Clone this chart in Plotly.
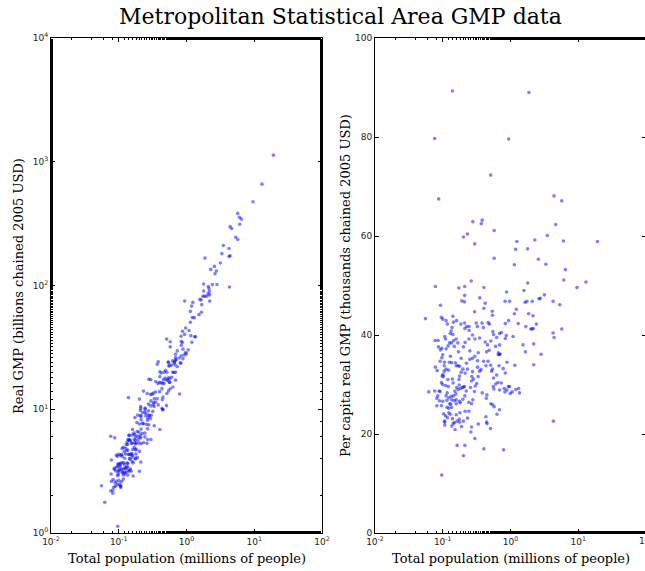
import plotly.graph_objects as go

# Metropolitan statistical areas: total population (millions of people)
population = [
    0.139, 1.87, 0.076, 0.94, 0.51, 0.087, 4.39, 5.70, 0.278, 0.383,
    0.370, 0.232, 0.202, 0.575, 0.297, 4.64, 3.50, 2.28, 1.24, 6.04,
    19.2, 1.19, 1.79, 0.575, 2.58, 1.14, 3.33, 6.46, 6.11, 1.79,
    13.0, 9.59, 0.078, 0.263, 0.173, 0.211, 0.405, 0.875, 1.58, 0.211,
    0.352, 3.16, 2.76,
    0.0925, 0.191, 0.209, 0.423, 0.404, 0.295, 0.537, 0.543, 0.832, 0.970,
    1.22, 1.64, 1.75, 2.10, 2.63, 4.25, 5.33, 1.14, 1.30, 1.85,
    2.15, 2.41, 2.08, 1.99, 1.68, 2.17, 1.09, 0.867, 0.838, 0.731,
    0.690, 0.838, 0.938, 1.53, 2.20, 2.82, 1.66, 2.20, 4.25, 4.40,
    5.71, 1.16,
    0.0556, 0.0622, 0.0955, 0.100, 0.112, 0.117, 0.141, 0.144, 0.160, 0.185,
    0.210, 0.212, 0.225, 0.245, 0.245, 0.312, 0.324, 0.380, 0.398, 0.468,
    0.490, 0.549, 0.137, 0.133, 0.0771, 0.0855, 0.0968, 0.107, 0.110, 0.129,
    0.141, 0.145, 0.135, 0.148, 0.158, 0.167, 0.171, 0.202, 0.214, 0.243,
    0.275, 0.298, 0.350, 0.423, 0.457, 0.513, 0.562, 0.624, 0.603, 0.690,
    0.661, 0.690, 0.444, 0.484, 0.334, 0.298, 0.251, 0.275, 0.326, 0.400,
    0.434, 0.465, 0.508, 0.526, 0.562, 0.624, 0.676, 0.603, 0.556, 0.569,
    0.652, 0.731, 0.809, 0.887, 0.828, 0.929, 0.993, 0.690, 0.449, 0.383,
    0.439, 0.513, 0.543, 0.575, 0.690, 0.631, 0.434, 0.444, 0.449, 0.507,
    0.334, 0.298, 0.404, 0.791, 4.30, 0.212, 0.163, 0.202, 0.0968, 0.266,
    0.260,
    0.078, 0.0826, 0.0817, 0.0883, 0.0914, 0.0979, 0.102, 0.0968, 0.100, 0.105,
    0.105, 0.112, 0.100, 0.0957, 0.103, 0.106, 0.107, 0.112, 0.116, 0.119,
    0.122, 0.126, 0.130, 0.136, 0.139, 0.142, 0.116, 0.123, 0.127, 0.133,
    0.136, 0.129, 0.139, 0.143, 0.148, 0.152, 0.158, 0.158, 0.161, 0.169,
    0.173, 0.177, 0.154, 0.158, 0.169, 0.177, 0.187, 0.187, 0.175, 0.183,
    0.194, 0.202, 0.209, 0.177, 0.181, 0.158, 0.163, 0.175, 0.202, 0.179,
    0.214, 0.198, 0.212, 0.222, 0.214, 0.232, 0.198, 0.224, 0.251, 0.275,
    0.284, 0.266, 0.269, 0.257, 0.243, 0.266, 0.278, 0.294, 0.301, 0.318,
    0.333, 0.349, 0.369, 0.326, 0.232, 0.243, 0.189, 0.177, 0.0762, 0.0817,
    0.0845, 0.0893, 0.106, 0.112, 0.120, 0.126, 0.101, 0.0957, 0.099, 0.110,
    0.121, 0.151, 0.156, 0.144, 0.148, 0.131, 0.123, 0.135, 0.110, 0.117,
    0.107, 0.136, 0.115, 0.123, 0.0914, 0.0923, 0.0865,
    1.32, 1.36, 1.20, 0.97, 1.06, 0.698, 0.661, 0.838, 0.782, 0.887,
    0.543,
]
# Per capita real GMP (thousands of chained 2005 USD), same order
per_capita = [
    89.3, 89.0, 79.7, 79.6, 72.3, 67.5, 68.1, 67.1, 62.9, 63.2,
    62.5, 60.4, 59.8, 61.1, 58.4, 62.3, 60.1, 59.2, 58.9, 59.0,
    58.9, 57.3, 57.4, 55.5, 55.3, 54.2, 54.3, 53.2, 51.1, 50.5,
    50.7, 49.6, 49.8, 50.9, 49.5, 49.8, 49.6, 48.7, 49.0, 48.0,
    47.5, 48.1, 47.4,
    46.0, 46.9, 46.7, 46.4, 45.4, 44.7, 44.8, 44.0, 46.8, 46.8,
    45.2, 46.6, 46.8, 46.8, 47.3, 46.8, 46.1, 44.3, 42.3, 44.3,
    43.9, 42.2, 41.2, 41.2, 41.7, 41.3, 39.7, 39.9, 39.3, 40.5,
    40.3, 42.3, 42.9, 38.0, 38.2, 36.1, 36.6, 34.0, 40.4, 39.5,
    41.2, 33.9,
    43.3, 28.5, 43.6, 43.2, 42.9, 42.2, 43.8, 42.6, 42.9, 42.2,
    42.4, 41.3, 41.7, 41.7, 40.9, 42.4, 41.7, 42.4, 41.5, 42.5,
    42.2, 40.7, 41.5, 40.8, 38.9, 38.9, 37.3, 39.7, 39.2, 40.3,
    40.1, 38.9, 38.4, 37.7, 39.2, 38.4, 36.6, 37.6, 38.5, 39.2,
    40.0, 39.2, 39.4, 38.6, 38.0, 38.8, 40.1, 39.5, 37.7, 38.0,
    36.4, 36.1, 36.6, 36.9, 36.4, 35.7, 36.8, 35.3, 34.8, 34.7,
    33.8, 34.7, 33.9, 32.7, 31.3, 31.9, 33.8, 30.1, 29.6, 29.1,
    30.4, 30.3, 29.2, 28.9, 28.5, 29.6, 28.2, 28.9, 27.9, 28.3,
    27.2, 26.1, 25.9, 25.5, 24.9, 24.0, 23.5, 22.4, 22.1, 21.1,
    22.0, 19.1, 17.0, 16.8, 22.6, 17.7, 17.7, 15.6, 11.7, 21.4,
    20.4,
    33.5, 32.8, 25.7, 28.7, 28.6, 31.7, 31.6, 35.4, 36.0, 33.8,
    32.7, 33.1, 26.6, 25.7, 24.1, 22.6, 21.8, 27.7, 28.3, 31.0,
    32.9, 34.5, 35.7, 34.4, 31.1, 30.3, 25.4, 25.2, 26.1, 27.6,
    26.9, 24.0, 23.1, 22.1, 22.3, 20.9, 23.9, 26.9, 29.4, 29.0,
    31.0, 31.7, 34.4, 33.8, 33.8, 33.7, 35.3, 32.5, 29.9, 29.2,
    29.4, 29.5, 29.6, 26.6, 26.3, 26.1, 22.6, 23.0, 22.6, 24.3,
    24.6, 27.0, 27.7, 28.7, 32.3, 33.1, 33.1, 34.3, 35.1, 32.6,
    31.1, 30.7, 31.6, 29.4, 26.4, 26.1, 26.9, 28.6, 29.7, 30.2,
    31.6, 32.7, 33.0, 33.5, 23.2, 24.6, 21.5, 22.4, 28.7, 27.2,
    27.7, 26.7, 34.5, 37.2, 37.8, 38.4, 32.0, 30.4, 30.0, 29.8,
    29.6, 28.7, 28.1, 27.7, 26.7, 26.0, 24.3, 25.4, 23.7, 23.3,
    22.4, 21.6, 26.8, 27.3, 34.7, 37.0, 37.6,
    29.2, 28.3, 29.0, 29.6, 28.5, 36.1, 36.0, 32.3, 33.2, 34.5,
    33.1,
]
# Real GMP in billions: millions of people x thousands of USD per person.
real_gmp = [p * c for p, c in zip(population, per_capita)]

x_ticks = [0.01, 0.1, 1, 10, 100]
x_tick_text = ["10<sup>-2</sup>", "10<sup>-1</sup>", "10<sup>0</sup>",
               "10<sup>1</sup>", "10<sup>2</sup>"]
gmp_ticks = [1, 10, 100, 1000, 10000]
gmp_tick_text = ["10<sup>0</sup>", "10<sup>1</sup>", "10<sup>2</sup>",
                 "10<sup>3</sup>", "10<sup>4</sup>"]
pc_ticks = [0, 20, 40, 60, 80, 100]

W, H = 647, 571
left0, left1 = 51, 322
right0, right1 = 375, 646
top, bottom = 38, 533

marker = dict(size=3.6, color="rgba(0,0,255,0.5)", line=dict(width=0))

fig = go.Figure()
fig.add_trace(go.Scatter(x=population, y=real_gmp, mode="markers",
                         marker=marker, xaxis="x", yaxis="y",
                         hoverinfo="skip"))
fig.add_trace(go.Scatter(x=population, y=per_capita, mode="markers",
                         marker=marker, xaxis="x2", yaxis="y2",
                         hoverinfo="skip"))

tick_font = dict(family="DejaVu Sans", size=9, color="#222222")
common = dict(showline=True, linecolor="black", linewidth=1, mirror="ticks",
              ticks="inside", ticklen=4, tickwidth=1, tickcolor="black",
              showgrid=False, zeroline=False, tickfont=tick_font,
              automargin=False)
log_minor = dict(ticks="inside", ticklen=2, tickwidth=1, tickcolor="black",
                 showgrid=False)

ydom = [(H - bottom) / H, (H - top) / H]
fig.update_layout(
    width=W, height=H,
    margin=dict(l=0, r=0, t=0, b=0),
    paper_bgcolor="white", plot_bgcolor="white",
    showlegend=False,
    xaxis=dict(type="log", range=[-2, 2], domain=[left0 / W, left1 / W],
               anchor="y", tickvals=x_ticks, ticktext=x_tick_text,
               minor=log_minor, **common),
    yaxis=dict(type="log", range=[0, 4], domain=ydom, anchor="x",
               tickvals=gmp_ticks, ticktext=gmp_tick_text,
               minor=log_minor, **common),
    xaxis2=dict(type="log", range=[-2, 2], domain=[right0 / W, right1 / W],
                anchor="y2", tickvals=x_ticks, ticktext=x_tick_text,
                minor=log_minor, **common),
    yaxis2=dict(range=[0, 100], domain=ydom, anchor="x2",
                tickvals=pc_ticks, **common),
)

# The last population tick of the right panel sits on the page edge;
# place its label explicitly so the visible part is drawn.
fig.add_annotation(text=x_tick_text[-1], x=2, xref="x2",
                   y=(H - 540) / H, yref="paper", showarrow=False,
                   xanchor="center", yanchor="middle", font=tick_font)

serif = "DejaVu Serif"
fig.add_annotation(text="Metropolitan Statistical Area GMP data",
                   x=340 / W, y=(H - 16) / H, xref="paper", yref="paper",
                   showarrow=False, xanchor="center", yanchor="middle",
                   font=dict(family=serif, size=22, color="black"))
for cx in [(left0 + left1) / 2, (right0 + right1) / 2]:
    fig.add_annotation(text="Total population (millions of people)",
                       x=cx / W, y=(H - 558) / H, xref="paper", yref="paper",
                       showarrow=False, xanchor="center", yanchor="middle",
                       font=dict(family=serif, size=13, color="black"))
fig.add_annotation(text="Real GMP (billions chained 2005 USD)",
                   x=18 / W, y=(H - 286) / H, xref="paper", yref="paper",
                   showarrow=False, xanchor="center", yanchor="middle",
                   textangle=-90,
                   font=dict(family=serif, size=13, color="black"))
fig.add_annotation(text="Per capita real GMP (thousands chained 2005 USD)",
                   x=345 / W, y=(H - 286) / H, xref="paper", yref="paper",
                   showarrow=False, xanchor="center", yanchor="middle",
                   textangle=-90,
                   font=dict(family=serif, size=13, color="black"))

fig.write_html(
    "out.html",
    config={"displayModeBar": False},
    post_script="document.documentElement.style.overflow='hidden';"
                "document.body.style.overflow='hidden';",
)
